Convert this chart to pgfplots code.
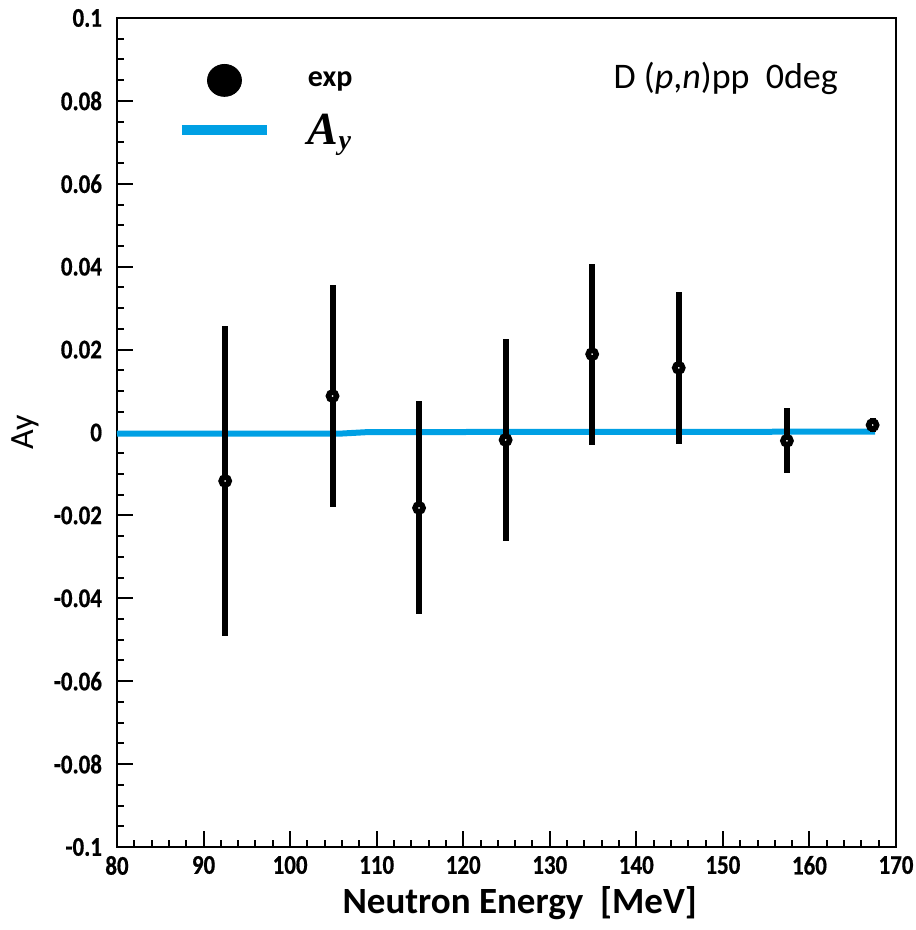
\documentclass[border=0pt]{standalone}
\usepackage{fontspec}
\setmainfont{Carlito}
\newfontfamily\tickfont[FakeStretch=0.85,FakeBold=0.6]{Carlito}
\newfontfamily\timesfont{Liberation Serif}
\usepackage{pgfplots}
\pgfplotsset{compat=1.18}
\definecolor{ayblue}{RGB}{0,160,228}
\begin{document}
\begin{tikzpicture}
\begin{axis}[
  scale only axis, width=389.5pt, height=414.5pt,
  xmin=80, xmax=170, ymin=-0.1, ymax=0.1,
  xtick={80,90,100,110,120,130,140,150,160,170},
  xticklabels={80,90,100,110,120,130,140,150,160,170},
  ytick={-0.1,-0.08,-0.06,-0.04,-0.02,0,0.02,0.04,0.06,0.08,0.1},
  yticklabels={-0.1,-0.08,-0.06,-0.04,-0.02,0,0.02,0.04,0.06,0.08,0.1},
  minor x tick num=4, minor y tick num=3,
  tick pos=left, tick align=inside,
  major tick length=8pt, minor tick length=3.5pt,
  tick style={black, line width=1pt},
  axis line style={line width=1pt},
  ticklabel style={font=\tickfont\bfseries\fontsize{13.5}{13.5}\selectfont},
  xticklabel style={yshift=-1pt},
  yticklabel style={xshift=-4pt},
  xlabel={Neutron Energy~~[MeV]},
  xlabel style={font=\bfseries\fontsize{18.5}{18.5}\selectfont, at={(axis description cs:0.517,0)}, anchor=base, yshift=-33pt},
  ylabel={Ay},
  ylabel style={font=\fontsize{17}{17}\selectfont, at={(axis description cs:-0.1180,0.5)}, anchor=center},
  legend style={at={(rel axis cs:0.077,0.9445)}, anchor=north west, draw=none, fill=none,
    inner sep=0pt, outer sep=0pt, row sep=8.5pt, cells={anchor=west}, nodes={inner sep=0pt}},
]
\addlegendimage{legend image code/.code={\fill[black] (21.25pt,0) ellipse (8.5pt and 8pt); \path[draw=none,fill=none] (0,0) -- (63pt,0);}}
\addlegendentry{\bfseries\fontsize{15}{15}\selectfont exp}
\addlegendimage{legend image code/.code={\path[draw=ayblue, line width=5pt] (0,0) -- (42.5pt,0); \path[draw=none,fill=none] (0,0) -- (63pt,0);}}
\addlegendentry{\timesfont\bfseries\itshape\fontsize{23}{23}\selectfont A\raisebox{-0.25ex}{\fontsize{14}{14}\selectfont y}}

\addplot[ayblue, line width=3pt, forget plot] coordinates {(80,-0.0003) (106,-0.00025) (109,0.0001) (167.6,0.0002)};

\addplot[only marks, mark=*, mark size=2.0pt, forget plot,
  mark options={fill=white, draw=black, line width=2.8pt},
  error bars/.cd, y dir=both, y explicit, error mark=none,
  error bar style={line width=3pt, black}]
  coordinates {
  (92.5,-0.0117) +- (0,0.0373)
  (104.9,0.0088) +- (0,0.0268)
  (114.9,-0.0182) +- (0,0.0257)
  (124.9,-0.0018) +- (0,0.0244)
  (134.9,0.0189) +- (0,0.0218)
  (144.9,0.0156) +- (0,0.0183)
  (157.4,-0.0020) +- (0,0.0078)
  (167.3,0.0018) +- (0,0.0016)
  };

\node[anchor=base west, font=\fontsize{18}{18}\selectfont] at (rel axis cs:0.6285,0.9155) {D (\textit{p},\textit{n})pp~~0deg};
\end{axis}
\pgfresetboundingbox
\path ([shift={(-58.5pt,-41.5pt)}]current axis.south west) rectangle ([shift={(10pt,9pt)}]current axis.north east);
\end{tikzpicture}
\end{document}
